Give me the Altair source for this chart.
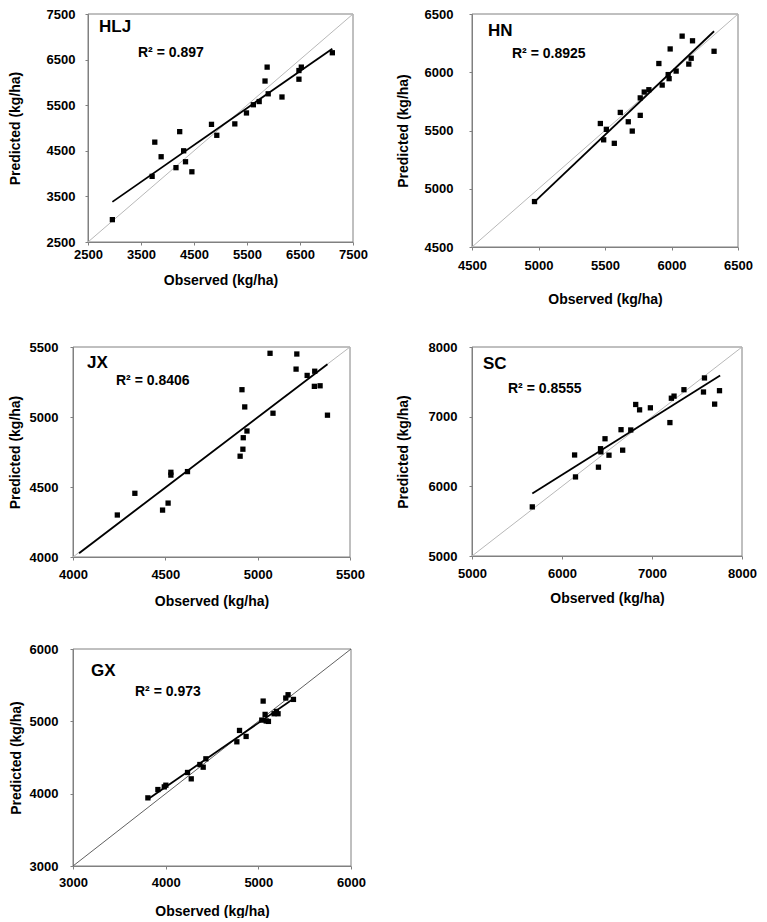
import altair as alt
import pandas as pd

# ---------------- data ----------------
hlj_obs = [2960, 3710, 3760, 3880, 4160, 4230, 4305, 4340, 4460, 4830, 4930, 5270,
           5490, 5620, 5730, 5840, 5880, 5900, 6160, 6480, 6480, 6525, 7110]
hlj_pred = [2990, 3940, 4690, 4370, 4130, 4920, 4500, 4260, 4040, 5080, 4840, 5090,
            5330, 5510, 5580, 6030, 6335, 5750, 5680, 6070, 6260, 6335, 6650]
hlj_trend_obs = [2960, 7110]
hlj_trend_pred = [3380, 6740]

hn_obs = [4970, 5465, 5490, 5510, 5570, 5615, 5675, 5705, 5765, 5765, 5795, 5830,
          5905, 5930, 5975, 5982, 5990, 6035, 6080, 6130, 6148, 6158, 6320]
hn_pred = [4890, 5560, 5420, 5510, 5390, 5655, 5575, 5495, 5630, 5780, 5830, 5850,
           6075, 5890, 5980, 5945, 6200, 6010, 6310, 6070, 6120, 6270, 6180]
hn_trend_obs = [4970, 6320]
hn_trend_pred = [4888, 6352]

jx_obs = [4240, 4335, 4485, 4515, 4530, 4530, 4620, 4905, 4920, 4922, 4942, 4915,
          4930, 5083, 5067, 5212, 5208, 5268, 5309, 5307, 5338, 5378]
jx_pred = [4300, 4455, 4335, 4385, 4605, 4585, 4610, 4720, 4770, 4852, 4900, 5195,
           5072, 5027, 5455, 5450, 5342, 5297, 5327, 5219, 5223, 5013]
jx_trend_obs = [4033, 5378]
jx_trend_pred = [4027, 5377]

sc_obs = [5670, 6140, 6150, 6405, 6428, 6432, 6478, 6522, 6656, 6674, 6764, 6819,
          6862, 6982, 7199, 7215, 7245, 7355, 7572, 7583, 7696, 7750]
sc_pred = [5705, 6450, 6135, 6275, 6540, 6495, 6683, 6447, 6813, 6519, 6809, 7175,
           7098, 7127, 6915, 7265, 7295, 7387, 7354, 7556, 7180, 7373]
sc_trend_obs = [5670, 7757]
sc_trend_pred = [5897, 7590]

gx_obs = [3808, 3916, 3985, 4002, 4236, 4276, 4369, 4405, 4434, 4768, 4797, 4868,
          5037, 5052, 5073, 5085, 5109, 5170, 5195, 5213, 5296, 5321, 5379]
gx_pred = [3942, 4057, 4094, 4117, 4293, 4205, 4403, 4366, 4482, 4717, 4874, 4791,
           5017, 5280, 5096, 5005, 4999, 5105, 5137, 5105, 5322, 5368, 5303]
gx_trend_obs = [3808, 5379]
gx_trend_pred = [3923, 5312]

names = ["HLJ", "HN", "JX", "SC", "GX"]
r2_labels = ["R² = 0.897", "R² = 0.8925", "R² = 0.8406", "R² = 0.8555", "R² = 0.973"]
domains = [[2500, 7500], [4500, 6500], [4000, 5500], [5000, 8000], [3000, 6000]]
steps = [1000, 500, 500, 1000, 1000]

FONT = "Liberation Sans"
AX = "#808080"


def panel(name, r2, obs, pred, tobs, tpred, dom, step, w, h,
          name_pos, r2_pos, diag_color, lp, tp, xlp, xtp, xoff=0):
    ticks = list(range(dom[0], dom[1] + 1, step))
    xs = alt.Scale(domain=dom, nice=False, zero=False, range=[xoff, xoff + w])
    ys = alt.Scale(domain=dom, nice=False, zero=False)

    ax_x = alt.Axis(title="Observed (kg/ha)", values=ticks, format="d", labelFlush=False,
                    tickSize=3, labelPadding=xlp, titlePadding=xtp, grid=False)
    y_kw = dict(title="Predicted (kg/ha)", values=ticks, format="d", labelFlush=False,
                tickSize=3, labelPadding=lp, titlePadding=tp, grid=False)
    if xoff:
        y_kw["offset"] = -xoff
    ax_y = alt.Axis(**y_kw)

    df = pd.DataFrame({"obs": obs, "pred": pred})
    diag_df = pd.DataFrame({"obs": dom, "pred": dom})
    trend_df = pd.DataFrame({"obs": tobs, "pred": tpred})
    box_df = pd.DataFrame({"obs": [dom[0]], "obs2": [dom[1]], "pred": [dom[0]], "pred2": [dom[1]]})

    box = alt.Chart(box_df).mark_rect(filled=False, stroke=AX, strokeWidth=1).encode(
        x=alt.X("obs:Q", scale=xs, axis=ax_x), x2="obs2:Q",
        y=alt.Y("pred:Q", scale=ys, axis=ax_y), y2="pred2:Q",
    )
    diag = alt.Chart(diag_df).mark_line(color=diag_color, strokeWidth=1).encode(
        x=alt.X("obs:Q", scale=xs, axis=ax_x),
        y=alt.Y("pred:Q", scale=ys, axis=ax_y),
    )
    trend = alt.Chart(trend_df).mark_line(color="black", strokeWidth=1.8).encode(
        x=alt.X("obs:Q", scale=xs, axis=ax_x),
        y=alt.Y("pred:Q", scale=ys, axis=ax_y),
    )
    pts = alt.Chart(df).mark_square(size=28, color="black", filled=True, opacity=1).encode(
        x=alt.X("obs:Q", scale=xs, axis=ax_x),
        y=alt.Y("pred:Q", scale=ys, axis=ax_y),
    )
    lbl = alt.Chart(pd.DataFrame({"t": [name]})).mark_text(
        align="left", baseline="middle", fontSize=17, fontWeight="bold", font=FONT, color="black"
    ).encode(x=alt.value(name_pos[0] + xoff), y=alt.value(name_pos[1]), text="t:N")
    r2t = alt.Chart(pd.DataFrame({"t": [r2]})).mark_text(
        align="left", baseline="middle", fontSize=14, fontWeight="bold", font=FONT, color="black"
    ).encode(x=alt.value(r2_pos[0] + xoff), y=alt.value(r2_pos[1]), text="t:N")

    return alt.layer(box, diag, trend, pts, lbl, r2t).properties(width=w + xoff, height=h)


p_hlj = panel(names[0], r2_labels[0], hlj_obs, hlj_pred, hlj_trend_obs, hlj_trend_pred,
              domains[0], steps[0], 265, 228, (11, 13), (50, 39), "#b8b8b8", 10, 24, 3, 12, xoff=15)
p_hn = panel(names[1], r2_labels[1], hn_obs, hn_pred, hn_trend_obs, hn_trend_pred,
             domains[1], steps[1], 266, 233, (16, 17), (40, 40), "#b8b8b8", 16, 14, 9, 20)
p_jx = panel(names[2], r2_labels[2], jx_obs, jx_pred, jx_trend_obs, jx_trend_pred,
             domains[2], steps[2], 277, 210, (14, 16), (43, 34), "#b8b8b8", 12, 7, 8, 13)
p_sc = panel(names[3], r2_labels[3], sc_obs, sc_pred, sc_trend_obs, sc_trend_pred,
             domains[3], steps[3], 270, 209, (11, 17), (36, 42), "#b8b8b8", 12, 18, 8, 11)
p_gx = panel(names[4], r2_labels[4], gx_obs, gx_pred, gx_trend_obs, gx_trend_pred,
             domains[4], steps[4], 278, 217, (18, 22), (62, 43), "#606060", 12, 6, 7, 15)

chart = alt.concat(
    p_hlj, p_hn, p_jx, p_sc, p_gx,
    columns=2,
    spacing={"row": 35, "column": 28},
).properties(
    padding={"left": 0, "top": 0, "right": 0, "bottom": 0}
).configure(
    font=FONT
).configure_view(
    stroke="transparent", strokeWidth=0
).configure_axis(
    domainColor=AX, domainWidth=1, tickColor=AX, tickWidth=1,
    labelFont=FONT, labelFontSize=13, labelFontWeight="bold", labelColor="black",
    titleFont=FONT, titleFontSize=14, titleFontWeight="bold", titleColor="black",
)

chart.save("out.html", embed_options={"renderer": "svg", "actions": False})
